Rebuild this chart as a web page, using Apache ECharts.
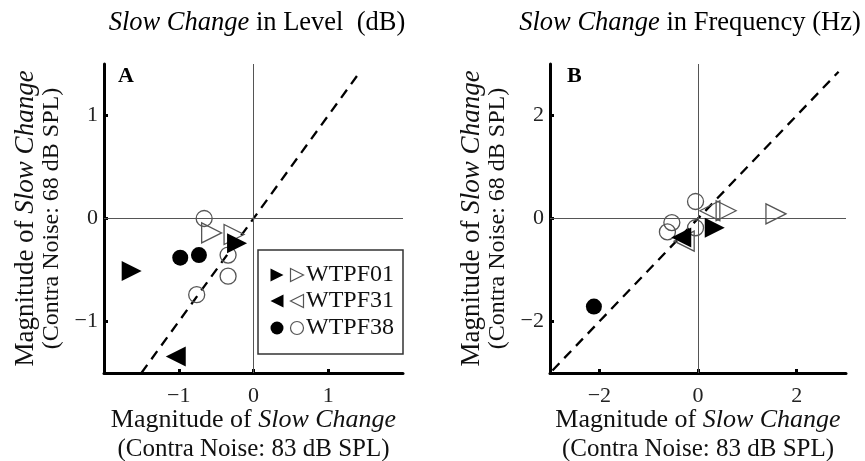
<!DOCTYPE html>
<html>
<head>
<meta charset="utf-8">
<script src="https://cdn.jsdelivr.net/npm/echarts@6/dist/echarts.min.js"></script>
<style>
html, body { margin: 0; padding: 0; background: #fff; }
#chart { width: 865px; height: 461px; }
</style>
</head>
<body>
<div id="chart"></div>
<script>
// panel A: level (dB)
const a01Filled = [[-1.63, -0.51], [-0.22, -0.24]]
const a01Open = [[-0.56, -0.14], [-0.26, -0.155]]
const a31Filled = [[-1.04, -1.34]]
const a31Open = []
const a38Filled = [[-0.98, -0.38], [-0.73, -0.355]]
const a38Open = [[-0.66, 0.0], [-0.34, -0.355], [-0.34, -0.56], [-0.76, -0.74]]

// panel B: frequency (Hz)
const b01Filled = [[0.34, -0.18]]
const b01Open = [[0.57, 0.15], [1.58, 0.09]]
const b31Filled = [[-0.34, -0.37]]
const b31Open = [[0.24, 0.15], [-0.28, -0.44]]
const b38Filled = [[-2.11, -1.71]]
const b38Open = [[-0.05, 0.33], [-0.53, -0.08], [-0.62, -0.26], [-0.05, -0.18]]

// unity lines (start/end x)
const diagA = [-1.5, 1.4]
const diagB = [-2.95, 2.85]

const ticksA = [-1, 0, 1]
const ticksB = [-2, 0, 2]
const subjects = ['WTPF01', 'WTPF31', 'WTPF38']

const FONT = '"Liberation Serif", "Times New Roman", serif'
const chart = echarts.init(document.getElementById('chart'))

const txt = (size, italic, lh) => ({
  fontFamily: FONT,
  fontSize: size,
  fontStyle: italic ? 'italic' : 'normal',
  lineHeight: lh,
  color: '#111'
})

function minus(v) {
  return String(v).replace('-', '\u2212')
}

function axisName(contra) {
  return '{n|Magnitude of }{i|Slow Change}\n{s|(Contra Noise: ' + contra + ' dB SPL)}'
}

function xAxisCfg(grid, min, max, ticks) {
  return {
    gridIndex: grid,
    type: 'value',
    min: min,
    max: max,
    axisLine: { onZero: false, lineStyle: { color: '#000', width: 3 } },
    axisTick: { inside: true, length: 4, customValues: ticks, lineStyle: { color: '#000', width: 3 } },
    axisLabel: { customValues: ticks, formatter: minus, margin: 12, fontFamily: FONT, fontSize: 22, color: '#222' },
    splitLine: { show: false },
    name: axisName(83),
    nameLocation: 'middle',
    nameGap: 33,
    nameMoveOverlap: false,
    nameTextStyle: { rich: { n: txt(26, false, 29), i: txt(26, true, 29), s: txt(25, false, 29) } }
  }
}

function yAxisCfg(grid, min, max, ticks) {
  return {
    gridIndex: grid,
    type: 'value',
    min: min,
    max: max,
    axisLine: { onZero: false, lineStyle: { color: '#000', width: 3 } },
    axisTick: { inside: true, length: 4, customValues: ticks, lineStyle: { color: '#000', width: 3 } },
    axisLabel: { customValues: ticks, formatter: minus, margin: 6, fontFamily: FONT, fontSize: 22, color: '#222' },
    splitLine: { show: false },
    name: axisName(68),
    nameLocation: 'middle',
    nameRotate: 90,
    nameGap: 39,
    nameTextStyle: { rich: { n: txt(27, false, 27), i: txt(27, true, 27), s: txt(24, false, 26) } }
  }
}

function points(idx, data, shape, filled) {
  return {
    type: 'scatter',
    xAxisIndex: idx,
    yAxisIndex: idx,
    data: data,
    symbol: shape === 'circle' ? 'circle' : 'triangle',
    symbolRotate: shape === 'right' ? -90 : shape === 'left' ? 90 : 0,
    symbolSize: shape === 'circle' ? 16 : 20,
    z: filled ? 5 : 4,
    silent: true,
    itemStyle: filled
      ? { color: '#000', opacity: 1 }
      : { color: 'transparent', borderColor: '#555', borderWidth: 1.3, opacity: 1 }
  }
}

function refLines(idx, diag) {
  return {
    type: 'line',
    xAxisIndex: idx,
    yAxisIndex: idx,
    data: diag.map(v => [v, v]),
    symbol: 'none',
    silent: true,
    z: 3,
    lineStyle: { color: '#000', width: 2.3, type: [10, 7] },
    markLine: {
      silent: true,
      symbol: 'none',
      label: { show: false },
      lineStyle: { color: '#555', width: 1, type: 'solid' },
      data: [{ xAxis: 0 }, { yAxis: 0 }]
    }
  }
}

// legend drawn by hand: filled and open marker per subject
const legendRows = [275, 301, 328]
const legendShapes = ['right', 'left', 'circle']
function legendMarker(shape, cx, cy, filled) {
  const st = filled ? { fill: '#000' } : { fill: 'none', stroke: '#555', lineWidth: 1.2 }
  if (shape === 'circle') {
    return { type: 'circle', shape: { cx: cx, cy: cy, r: 6.5 }, style: st }
  }
  const s = 6.5
  const pts = shape === 'right'
    ? [[cx - s, cy - s], [cx + s, cy], [cx - s, cy + s]]
    : [[cx + s, cy - s], [cx - s, cy], [cx + s, cy + s]]
  return { type: 'polygon', shape: { points: pts }, style: st }
}

const legendEls = [{
  type: 'rect',
  shape: { x: 258, y: 250, width: 145, height: 104 },
  style: { fill: '#fff', stroke: '#333', lineWidth: 1.5 },
  z: 10
}]
subjects.forEach((name, i) => {
  const y = legendRows[i]
  legendEls.push(Object.assign(legendMarker(legendShapes[i], 277, y, true), { z: 11 }))
  legendEls.push(Object.assign(legendMarker(legendShapes[i], 297, y, false), { z: 11 }))
  legendEls.push({
    type: 'text', x: 306, y: y, z: 11,
    style: { text: name, fontFamily: FONT, fontSize: 24, fill: '#111', verticalAlign: 'middle' }
  })
})

function title(x, rest) {
  return {
    type: 'text', x: x, y: 23,
    style: {
      text: '{i|Slow Change}{n| ' + rest + '}',
      align: 'center',
      verticalAlign: 'middle',
      rich: { i: txt(26.5, true), n: txt(26.5, false) }
    }
  }
}

chart.setOption({
  animation: false,
  grid: [
    { left: 104, top: 64, width: 299, height: 309, outerBoundsMode: 'none' },
    { left: 550, top: 64, width: 296, height: 309, outerBoundsMode: 'none' }
  ],
  xAxis: [xAxisCfg(0, -2, 2, ticksA), xAxisCfg(1, -3, 3, ticksB)],
  yAxis: [yAxisCfg(0, -1.5, 1.5, ticksA), yAxisCfg(1, -3, 3, ticksB)],
  graphic: [
    title(257, 'in Level  (dB)'),
    title(690, 'in Frequency (Hz)'),
    { type: 'text', x: 118, y: 65, style: { text: 'A', fontFamily: FONT, fontSize: 22, fontWeight: 'bold', fill: '#000' } },
    { type: 'text', x: 567, y: 65, style: { text: 'B', fontFamily: FONT, fontSize: 22, fontWeight: 'bold', fill: '#000' } }
  ].concat(legendEls),
  series: [
    refLines(0, diagA),
    points(0, a01Open, 'right', false),
    points(0, a31Open, 'left', false),
    points(0, a38Open, 'circle', false),
    points(0, a01Filled, 'right', true),
    points(0, a31Filled, 'left', true),
    points(0, a38Filled, 'circle', true),
    refLines(1, diagB),
    points(1, b01Open, 'right', false),
    points(1, b31Open, 'left', false),
    points(1, b38Open, 'circle', false),
    points(1, b01Filled, 'right', true),
    points(1, b31Filled, 'left', true),
    points(1, b38Filled, 'circle', true)
  ]
})
</script>
</body>
</html>
